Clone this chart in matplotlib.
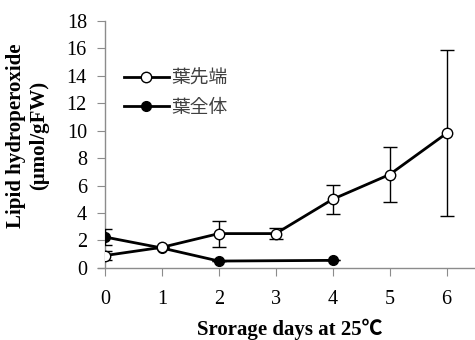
import matplotlib
matplotlib.use("Agg")
import matplotlib.pyplot as plt
from matplotlib.lines import Line2D

# data
days = [0, 1, 2, 3, 4, 5, 6]
tip_vals = [0.9, 1.5, 2.5, 2.5, 5.0, 6.8, 9.8]
tip_err = [0.3, 0.0, 0.95, 0.4, 1.05, 2.0, 6.05]
whole_days = [0, 1, 2, 4]
whole_vals = [2.25, 1.45, 0.5, 0.55]
whole_err = [0.55, 0.0, 0.0, 0.0]
labels = ["葉先端", "葉全体"]

plt.rcParams["font.family"] = ["Liberation Serif", "Noto Sans CJK JP"]
cjk = ["Noto Sans CJK JP", "DejaVu Sans"]

fig = plt.figure(figsize=(4.75, 3.4), dpi=100)
ax = fig.add_axes([0.221, 0.212, 0.779, 0.727])

ax.errorbar(whole_days, whole_vals, yerr=whole_err, color="black", lw=2,
            marker="o", ms=7, mfc="black", mec="black", ecolor="black",
            elinewidth=1, capsize=5, capthick=1, zorder=3)
ax.errorbar(days, tip_vals, yerr=tip_err, color="black", lw=2,
            marker="o", ms=7.5, mfc="white", mec="black", mew=1,
            ecolor="black", elinewidth=1, capsize=5, capthick=1, zorder=4)

ax.set_xlim(0, 6.5)
ax.set_ylim(0, 18)
ax.set_xticks(days)
ax.set_yticks(range(0, 19, 2))
for s in ["top", "right"]:
    ax.spines[s].set_visible(False)
for s in ["left", "bottom"]:
    ax.spines[s].set_color("#8c8c8c")
    ax.spines[s].set_linewidth(1)
ax.tick_params(axis="both", direction="out", length=6, color="#8c8c8c",
               labelsize=14.5)
ax.tick_params(axis="x", pad=10)
ax.tick_params(axis="y", pad=7)
ax.spines["bottom"].set_bounds(-0.12, 6.5)

ax.set_ylabel("Lipid hydroperoxide\n(μmol/gFW)", fontweight="bold",
              fontsize=15, linespacing=1.25)
ax.yaxis.set_label_coords(-0.15, 0.536)
ax.set_xlabel("Srorage days at 25℃", fontweight="bold", fontsize=15,
              labelpad=7)

handles = [
    Line2D([], [], color="black", lw=2, marker="o", ms=7.5, mfc="white",
           mec="black", mew=1),
    Line2D([], [], color="black", lw=2, marker="o", ms=7, mfc="black",
           mec="black"),
]
leg = ax.legend(handles, labels, loc="upper left", bbox_to_anchor=(0.005, 0.88),
                frameon=False, handlelength=2.4, handletextpad=0.15,
                labelspacing=0.45, prop={"family": cjk, "size": 13.5})
for t in leg.get_texts():
    t.set_color("#404040")

fig.savefig("out.png", dpi=100)
